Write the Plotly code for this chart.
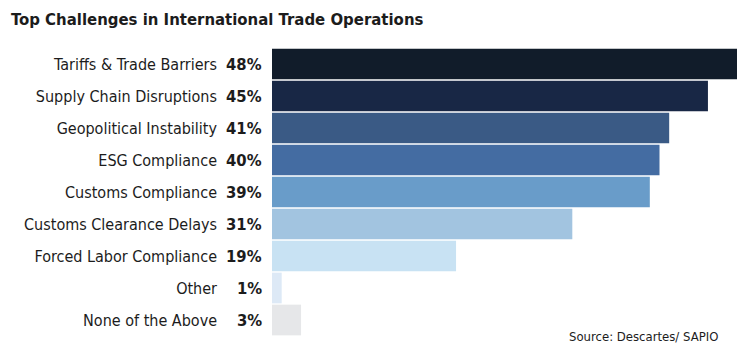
import plotly.graph_objects as go

categories = ["Tariffs & Trade Barriers", "Supply Chain Disruptions", "Geopolitical Instability",
              "ESG Compliance", "Customs Compliance", "Customs Clearance Delays",
              "Forced Labor Compliance", "Other", "None of the Above"]
values = [48, 45, 41, 40, 39, 31, 19, 1, 3]
colors = ["#111c2a", "#182745", "#3a5a85", "#446ca2", "#699cc9", "#a2c4e0", "#c8e2f3", "#dde9f6", "#e6e7e9"]

FONT = "Liberation Sans Narrow, DejaVu Sans Condensed, Arial Narrow, sans-serif"
TXT = "#1c1c1c"

fig = go.Figure(go.Bar(
    x=values, y=categories, orientation="h",
    marker=dict(color=colors, line=dict(width=0)),
    hoverinfo="skip",
))

for c, v in zip(categories, values):
    fig.add_annotation(
        x=0, xref="paper", y=c, yref="y", text=f"<b>{v}%</b>",
        xanchor="right", yanchor="middle", xshift=-8, showarrow=False,
        font=dict(family=FONT, size=16.5, color=TXT),
    )

fig.add_annotation(
    x=1, xref="paper", y=0, yref="paper", text="Source: Descartes/ SAPIO",
    xanchor="right", yanchor="middle", xshift=-17, showarrow=False,
    font=dict(family=FONT, size=13, color=TXT),
)

fig.update_layout(
    width=750, height=350,
    margin=dict(l=272, r=13, t=48, b=14),
    paper_bgcolor="white", plot_bgcolor="white",
    bargap=0.04,
    showlegend=False,
    title=dict(text="<b>Top Challenges in International Trade Operations</b>",
               x=0, xref="container", xanchor="left", y=1, yref="container", yanchor="top",
               pad=dict(t=13, l=11),
               font=dict(family=FONT, size=16.6, color=TXT)),
    xaxis=dict(range=[0, 48], visible=False, fixedrange=True),
    yaxis=dict(autorange="reversed", showgrid=False, showline=False, zeroline=False,
               ticks="", ticklabelstandoff=54,
               tickfont=dict(family=FONT, size=16, color=TXT)),
)

fig.write_html("out.html")
